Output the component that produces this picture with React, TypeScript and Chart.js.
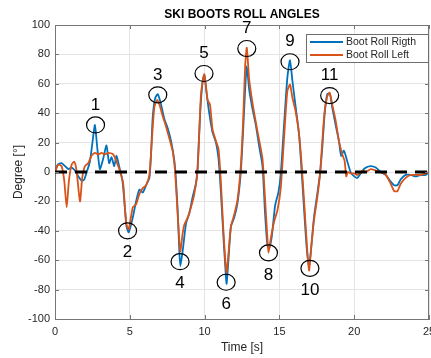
import React, { useEffect, useRef } from 'react';
import { Chart, registerables } from 'chart.js';

Chart.register(...registerables);

// ---------- data ----------
const rightTime = [0, 0.18, 0.44, 0.67, 0.89, 1.11, 1.33, 1.56, 1.78, 1.96, 2.11, 2.33, 2.49, 2.67, 2.82, 3.0, 3.22, 3.44, 3.62, 3.78, 3.96, 4.11, 4.33, 4.51, 4.67, 4.78, 4.93, 5.2, 5.42, 5.64, 5.87, 6.09, 6.31, 6.42, 6.53, 6.69, 6.87, 7.09, 7.31, 7.53, 7.76, 7.98, 8.09, 8.2, 8.31, 8.38, 8.53, 8.76, 8.98, 9.2, 9.42, 9.53, 9.71, 9.87, 9.98, 10.13, 10.31, 10.53, 10.76, 10.93, 11.09, 11.24, 11.38, 11.47, 11.6, 11.76, 11.98, 12.2, 12.42, 12.58, 12.71, 12.82, 12.98, 13.2, 13.42, 13.64, 13.87, 14.04, 14.2, 14.31, 14.49, 14.71, 14.93, 15.09, 15.31, 15.53, 15.71, 15.87, 16.09, 16.31, 16.47, 16.64, 16.82, 16.98, 17.13, 17.31, 17.53, 17.71, 17.87, 18.02, 18.2, 18.38, 18.53, 18.76, 18.98, 19.13, 19.31, 19.53, 19.76, 20.0, 20.22, 20.56, 20.78, 21.11, 21.44, 21.78, 22.11, 22.44, 22.67, 22.89, 23.11, 23.44, 23.78, 24.11, 24.44, 24.78, 25];
const rightRoll = [0, 5, 6, 4, 2, 3, 1, -3, -6, -5, -0.5, 7, 19, 32, 17, 2, 9, 18, 6, 10, 4, 11, 2, -6, -24, -37, -41, -31, -20, -12, -14, -9, -4, 12, 37, 50, 53, 46, 36, 30, 21, 7.5, -6, -26, -54, -64, -54, -35, -28, -17, -8, 3, 41, 62, 66, 54, 40, 27, 20, 9, -14, -41, -64, -76, -59, -37, -31, -21, 0, 29, 56, 72, 56, 43, 32, 18, 4, -28, -50, -52, -44, -23, -14, -1.5, 32, 64, 76, 62, 44, 26, 3, -24, -51, -65, -51, -31, -15, -1.5, 17, 39, 53, 53, 44, 32, 21, 11, 14.5, 7.5, 0, -3, -4, 1, 3, 4, 3, 0, -2, -6.5, -9, -9, -5, -2, -2, -3, -2, -2, 0];

const leftTime = [0, 0.22, 0.44, 0.62, 0.78, 0.93, 1.11, 1.29, 1.44, 1.67, 1.82, 2.0, 2.22, 2.44, 2.67, 2.89, 3.11, 3.33, 3.56, 3.89, 4.11, 4.33, 4.56, 4.67, 4.78, 4.93, 5.2, 5.42, 5.64, 5.87, 6.09, 6.31, 6.47, 6.64, 6.82, 6.98, 7.2, 7.42, 7.64, 7.87, 8.02, 8.16, 8.31, 8.38, 8.53, 8.64, 8.87, 9.09, 9.31, 9.53, 9.76, 9.98, 10.2, 10.36, 10.53, 10.76, 10.93, 11.09, 11.24, 11.38, 11.47, 11.6, 11.76, 11.98, 12.2, 12.42, 12.58, 12.71, 12.82, 12.98, 13.2, 13.42, 13.64, 13.87, 14.04, 14.2, 14.27, 14.42, 14.64, 14.87, 15.09, 15.31, 15.53, 15.71, 15.87, 16.09, 16.31, 16.47, 16.64, 16.82, 16.98, 17.13, 17.31, 17.53, 17.71, 17.87, 18.02, 18.2, 18.36, 18.53, 18.76, 18.98, 19.2, 19.36, 19.47, 19.58, 19.76, 20.0, 20.22, 20.56, 20.78, 21.11, 21.44, 21.78, 22.11, 22.44, 22.67, 22.89, 23.11, 23.44, 23.78, 24.11, 24.44, 24.78, 25];
const leftRoll = [0, 5, 4, -6, -24, -6, 5, 7, 1, -20, -4, 4, 6, 11, 13, 12, 13, 12, 13, 12, 7, 1, -8, -24, -36, -39, -24, -22, -15, -11, -9, -2, 21, 44, 49, 46, 38, 31, 23, 14, 1, -22, -47, -54, -42, -36, -31, -24, -15, 1, 53, 66.5, 49, 46, 29, 21, 15.5, -7, -37, -59.5, -68.5, -55, -37, -29, -19, 4, 36, 72, 84.5, 63, 47, 34, 22, 9, -18, -45.5, -55, -45.5, -34, -26, -11, 23, 55, 59.5, 50.5, 41, 26, 7.5, -18, -47, -67, -51, -33, -17.5, -2, 21, 41, 51.5, 54, 46, 35, 21, 12, 7.5, -3, 0, -1, -1, -2, 1, 0, 2, 1, 0, -2, -8, -13, -13, -8, -4, -2, -2, -2, -1, 0];

const peakLabels = ['1', '2', '3', '4', '5', '6', '7', '8', '9', '10', '11'];
const peakTime = [2.71, 4.85, 6.87, 8.36, 9.96, 11.44, 12.82, 14.27, 15.71, 17.04, 18.36];
const peakValue = [32, -40, 52.5, -61, 67, -75, 84, -55, 75, -65.5, 52];
const peakAbove = [true, false, true, false, true, false, true, false, true, false, true];

const zeroTime = [0, 25];
const zeroValue = [0, 0];

const xTicks = [0, 5, 10, 15, 20, 25];
const yTicks = [-100, -80, -60, -40, -20, 0, 20, 40, 60, 80, 100];

const seriesNames = ['Boot Roll Rigth', 'Boot Roll Left'];
const chartTitle = 'SKI BOOTS ROLL ANGLES';

// ---------- styles ----------
const FONT = '"Liberation Sans", Arial, Helvetica, sans-serif';
const BLUE = '#0072BD';
const RED = '#D95319';
const TEXT = '#262626';
const AXIS = '#767676';
const GRID = '#e4e4e4';

const toPoints = (xs: number[], ys: number[]) => xs.map((x, i) => ({ x, y: ys[i] }));

const decorPlugin = {
  id: 'decor',
  afterDatasetsDraw(chart: any) {
    const { ctx, chartArea: a, scales } = chart;
    const xs = scales.x;
    const ys = scales.y;
    ctx.save();

    // box top & right
    ctx.strokeStyle = AXIS;
    ctx.lineWidth = 1;
    ctx.beginPath();
    ctx.moveTo(a.left, a.top + 0.5);
    ctx.lineTo(a.right, a.top + 0.5);
    ctx.moveTo(a.right - 0.5, a.top);
    ctx.lineTo(a.right - 0.5, a.bottom);
    ctx.stroke();

    // inward ticks
    ctx.beginPath();
    xTicks.forEach((t) => {
      const px = Math.round(xs.getPixelForValue(t)) + 0.5;
      ctx.moveTo(px, a.bottom);
      ctx.lineTo(px, a.bottom - 4);
      ctx.moveTo(px, a.top);
      ctx.lineTo(px, a.top + 4);
    });
    yTicks.forEach((v) => {
      const py = Math.round(ys.getPixelForValue(v)) + 0.5;
      ctx.moveTo(a.left, py);
      ctx.lineTo(a.left + 4, py);
      ctx.moveTo(a.right, py);
      ctx.lineTo(a.right - 4, py);
    });
    ctx.stroke();

    // circles and numbers
    ctx.strokeStyle = '#000';
    ctx.lineWidth = 1.2;
    ctx.fillStyle = '#000';
    ctx.font = `17px ${FONT}`;
    ctx.textAlign = 'center';
    ctx.textBaseline = 'middle';
    peakLabels.forEach((lab, i) => {
      const cx = xs.getPixelForValue(peakTime[i]);
      const cy = ys.getPixelForValue(peakValue[i]);
      ctx.beginPath();
      ctx.ellipse(cx, cy, 9, 8, 0, 0, Math.PI * 2);
      ctx.stroke();
      ctx.fillText(lab, cx, peakAbove[i] ? cy - 20 : cy + 22);
    });

    // legend
    const lx = 306, ly = 34, lw = 122, lh = 28;
    ctx.fillStyle = '#fff';
    ctx.fillRect(lx, ly, lw, lh);
    ctx.strokeStyle = '#6e6e6e';
    ctx.lineWidth = 1;
    ctx.strokeRect(lx + 0.5, ly + 0.5, lw, lh);
    const colors = [BLUE, RED];
    ctx.font = `10.5px ${FONT}`;
    ctx.textAlign = 'left';
    ctx.textBaseline = 'middle';
    seriesNames.forEach((name, i) => {
      const ry = ly + 8 + i * 13;
      ctx.strokeStyle = colors[i];
      ctx.lineWidth = 2;
      ctx.beginPath();
      ctx.moveTo(lx + 4, ry);
      ctx.lineTo(lx + 37, ry);
      ctx.stroke();
      ctx.fillStyle = TEXT;
      ctx.fillText(name, lx + 40, ry);
    });

    // title
    ctx.fillStyle = '#000';
    ctx.font = `bold 12px ${FONT}`;
    ctx.textAlign = 'center';
    ctx.textBaseline = 'middle';
    ctx.fillText(chartTitle, (a.left + a.right) / 2, 15);

    ctx.restore();
  },
};

export default function App() {
  const ref = useRef<HTMLCanvasElement | null>(null);

  useEffect(() => {
    if (!ref.current) return;
    const chart = new Chart(ref.current, {
      type: 'line',
      data: {
        datasets: [
          {
            label: 'zero',
            data: toPoints(zeroTime, zeroValue),
            borderColor: '#000',
            borderWidth: 3,
            borderDash: [12, 8],
            pointRadius: 0,
            order: 0,
          },
          {
            label: seriesNames[0],
            data: toPoints(rightTime, rightRoll),
            borderColor: BLUE,
            borderWidth: 1.8,
            pointRadius: 0,
            tension: 0.2,
            order: 2,
          },
          {
            label: seriesNames[1],
            data: toPoints(leftTime, leftRoll),
            borderColor: RED,
            borderWidth: 1.8,
            pointRadius: 0,
            tension: 0.2,
            order: 1,
          },
        ],
      },
      options: {
        animation: false,
        responsive: false,
        devicePixelRatio: 1,
        layout: { padding: { left: 0, top: 25, right: 16, bottom: 0 } },
        plugins: {
          legend: { display: false },
          title: { display: false },
          tooltip: { enabled: false },
        },
        scales: {
          x: {
            type: 'linear',
            min: 0,
            max: 25,
            afterBuildTicks: (s: any) => {
              s.ticks = xTicks.map((v) => ({ value: v }));
            },
            afterFit: (s: any) => {
              s.height = 39;
            },
            grid: { color: GRID, drawTicks: false },
            border: { color: AXIS },
            ticks: {
              autoSkip: false,
              maxRotation: 0,
              padding: 6,
              color: TEXT,
              font: { family: FONT, size: 11 },
            },
            title: {
              display: true,
              text: 'Time [s]',
              color: TEXT,
              font: { family: FONT, size: 12 },
              padding: { top: 0, bottom: 3 },
            },
          },
          y: {
            type: 'linear',
            min: -100,
            max: 100,
            afterBuildTicks: (s: any) => {
              s.ticks = yTicks.map((v) => ({ value: v }));
            },
            afterFit: (s: any) => {
              s.width = 55;
            },
            grid: { color: GRID, drawTicks: false },
            border: { color: AXIS },
            ticks: {
              autoSkip: false,
              padding: 5,
              color: TEXT,
              font: { family: FONT, size: 11 },
            },
            title: {
              display: true,
              text: 'Degree [°]',
              color: TEXT,
              font: { family: FONT, size: 12 },
              padding: { top: 11, bottom: 0 },
            },
          },
        },
      },
      plugins: [decorPlugin],
    } as any);
    return () => chart.destroy();
  }, []);

  return (
    <div
      style={{
        position: 'absolute',
        left: 0,
        top: 0,
        width: 431,
        height: 358,
        overflow: 'hidden',
        background: '#fff',
      }}
    >
      <canvas ref={ref} width={445} height={358} style={{ display: 'block' }} />
    </div>
  );
}
